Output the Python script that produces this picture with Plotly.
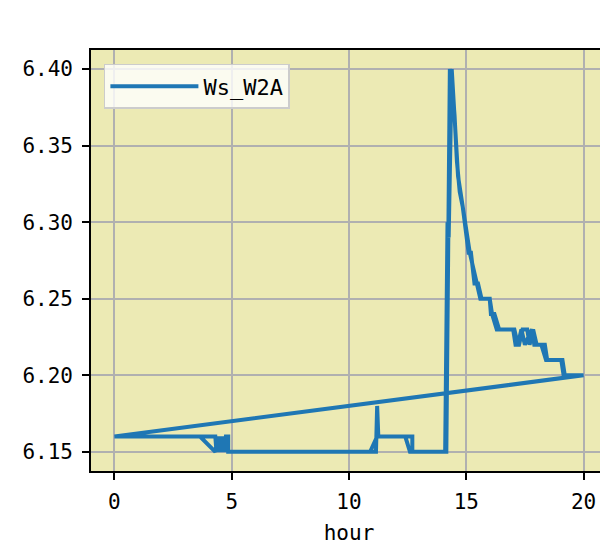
import plotly.graph_objects as go

# Two overlapping daily passes of the series (hour, Ws_W2A), plotted as one line
hour = [
    0.00, 0.70, 1.60, 2.80, 3.65, 4.30, 4.40, 4.50, 4.60, 4.70, 4.80, 4.85, 6.00, 8.00, 10.90,
    11.20, 12.40, 12.60, 14.10, 14.20, 14.25, 14.38, 14.45, 14.55, 14.65, 14.75, 14.85, 14.95,
    15.05, 15.15, 15.30, 15.45, 15.60, 16.00, 16.05, 16.20, 16.40, 17.05, 17.20, 17.35, 17.50,
    17.80, 17.90, 18.20, 18.40, 19.10, 19.20, 20.00,
    0.00, 0.68, 2.00, 3.80, 4.30, 4.35, 4.40, 4.45, 4.55, 4.65, 4.75, 4.85, 4.85, 7.00, 9.50,
    11.15, 11.20, 11.25, 12.70, 12.70, 14.15, 14.30, 14.40, 14.50, 14.60, 14.72, 14.85, 15.00,
    15.10, 15.20, 15.35, 15.50, 15.65, 16.00, 16.10, 16.30, 17.00, 17.10, 17.25, 17.40, 17.60,
    17.70, 17.85, 18.00, 18.35, 18.45, 19.05, 19.15, 19.95,
    0.00,
]
ws = [
    6.16, 6.16, 6.16, 6.16, 6.16, 6.15, 6.16, 6.15, 6.16, 6.15, 6.16, 6.15, 6.15, 6.15, 6.15,
    6.16, 6.16, 6.15, 6.15, 6.30, 6.29, 6.40, 6.38, 6.35, 6.33, 6.32, 6.31, 6.30,
    6.29, 6.28, 6.27, 6.26, 6.25, 6.25, 6.24, 6.24, 6.23, 6.23, 6.22, 6.23, 6.22,
    6.23, 6.22, 6.22, 6.21, 6.21, 6.20, 6.20,
    6.16, 6.16, 6.16, 6.16, 6.16, 6.15, 6.16, 6.15, 6.16, 6.15, 6.16, 6.16, 6.15, 6.15, 6.15,
    6.15, 6.18, 6.16, 6.16, 6.15, 6.15, 6.40, 6.39, 6.37, 6.34, 6.32, 6.31, 6.29,
    6.28, 6.28, 6.26, 6.26, 6.25, 6.25, 6.24, 6.23, 6.23, 6.22, 6.22, 6.23, 6.23,
    6.22, 6.23, 6.22, 6.22, 6.21, 6.21, 6.20, 6.20,
    6.16,
]
series_name = "Ws_W2A"
x_title = "hour"
x_ticks = [0, 5, 10, 15, 20]
y_ticks = [6.15, 6.20, 6.25, 6.30, 6.35, 6.40]
y_ticklabels = ["6.15", "6.20", "6.25", "6.30", "6.35", "6.40"]

FONT = "DejaVu Sans Mono"

fig = go.Figure()
fig.add_trace(go.Scatter(
    x=hour, y=ws, mode="lines", name=series_name,
    line=dict(color="#1f77b4", width=4),
    showlegend=True,
))

axis_common = dict(
    showline=True, linecolor="black", linewidth=1.6, mirror=True,
    showgrid=True, gridcolor="#b0b0b0", gridwidth=1.5,
    ticks="outside", ticklen=7, tickwidth=1.6, tickcolor="black",
    zeroline=False, automargin=False,
    tickfont=dict(family=FONT, size=21, color="black"),
)

# The page body adds an 8px offset, so the figure is sized to fill the rest of the window
fig.update_layout(
    width=600, height=543,
    margin=dict(l=83, r=1, t=42, b=80),
    paper_bgcolor="white",
    plot_bgcolor="#ECEAB4",
    font=dict(family=FONT, color="black"),
    xaxis=dict(
        range=[-1.0, 21.0], tickvals=x_ticks,
        title=dict(text=x_title, font=dict(family=FONT, size=21, color="black"), standoff=12),
        ticklabelstandoff=4,
        **axis_common,
    ),
    yaxis=dict(
        range=[6.1375, 6.4125], tickvals=y_ticks, ticktext=y_ticklabels,
        ticklabelstandoff=5,
        **axis_common,
    ),
    legend=dict(
        x=0.025, y=0.967, xanchor="left", yanchor="top",
        bgcolor="rgba(255,255,255,0.8)", bordercolor="#cccccc", borderwidth=1.5,
        font=dict(family=FONT, size=22, color="black"),
        itemwidth=88,
    ),
)

fig.write_html("out.html")
